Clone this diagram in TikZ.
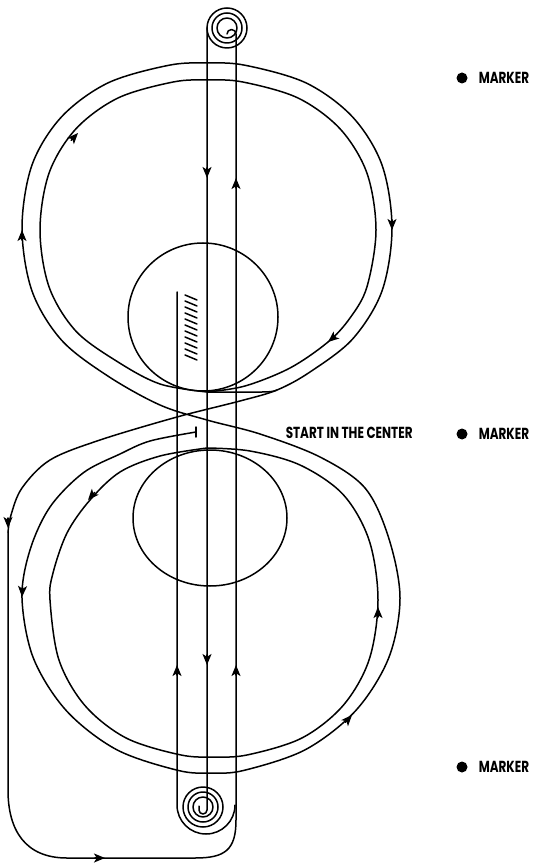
\documentclass[tikz,border=0pt]{standalone}
\usepackage{fontspec}
\newfontfamily\lab{Poppins}[FakeStretch=0.75]
\usetikzlibrary{arrows.meta}
\begin{document}
\begin{tikzpicture}[x=0.5pt,y=-0.5pt, line width=0.75pt, line join=round, line cap=round,
  tipped/.style={-{Stealth[length=5.5pt,width=4.5pt,inset=1.4pt]}},
  lbl/.style={font=\lab\bfseries\fontsize{8}{9}\selectfont, inner sep=0pt, anchor=west}]
\useasboundingbox (0,0) rectangle (534,865);
\newcommand{\arrowat}[4]{\draw[tipped] (#1,#2) -- (#3,#4);}
% ---------- vertical center lines ----------
\draw (177,292) -- (177,805) arc (180:360:14.5pt);
\draw (207,28) -- (207,810) arc (0:-180:2pt) -- ++(0,-4);
\draw (227,34) arc (180:0:2.25pt) -- (236,820) .. controls (236,850) and (225,858) .. (195,858)
      -- (67,858) .. controls (25,858) and (8,830) .. (8,790) -- (8,532);
% spirals
\foreach \r in {10pt,7.5pt,5pt} { \draw (227,28) circle[radius=\r]; \draw (203,807) circle[radius=\r]; }
% ---------- small circles ----------
\draw (203,317) ellipse [x radius=37.5pt, y radius=37pt];
\draw (210,518) ellipse [x radius=38.5pt, y radius=34pt];
% ---------- main route: start, bottom outer, cross, top outer, cross, left run ----------
\draw plot[smooth, tension=0.55] coordinates {(196,432) (150,441) (120,454) (83,473) (50,507) (30,550) (22,598)
  (33.3,657.9) (66.2,710.5) (116.5,749.6) (178.1,770.4) (211,773) (243.9,770.4) (305.5,749.6) (355.8,710.5)
  (388.7,657.9) (400,598) (388.7,538) (365,488) (320,457) (260,434) (207,420) (160,405) (107.8,376)
  (61.4,340) (32,291) (22,228) (32,165) (61.4,117) (107.8,83) (168.7,65.3) (207,63) (245.3,65.3)
  (306.2,83) (352.6,117) (382,165) (392,228) (382,291) (352.6,339) (310,372) (277,390) (240,401)
  (177,417) (100,440) (50,460) (22,488) (11,515) (8,532)};
% ---------- top inner loop ----------
\draw plot[smooth, tension=0.55] coordinates {(207,392) (160,384) (118,362) (75.8,331) (49.1,287) (40,230)
  (49.1,173) (75.8,129) (118,98) (173.2,82) (208,80) (242.8,82) (298,98) (340.2,129) (366.9,173) (376,230)
  (366.9,287) (350,318) (328,342) (290,368) (245,386) (207,392)};
\draw (207,392) -- (262,392) .. controls (272,392) and (275,391) .. (277,390);
% ---------- bottom inner loop ----------
\draw plot[smooth, tension=0.55] coordinates {(207,448) (160,456) (120,472) (90,500) (67,533) (53,573) (50,600)
  (58.9,659.8) (84.9,705.5) (126.1,738) (180.1,754.8) (214,757) (247.9,754.8) (301.9,738) (343.1,705.5)
  (369.1,659.8) (378,600) (369.1,540.2) (343.1,494.5) (300,465) (250,451) (207,448)};
% start bar
\draw (196,427) -- (196,437);
% hatching
\foreach \k in {0,...,10} { \draw (185,{295+6*\k}) -- (197,{300+6*\k}); }
% ---------- arrows ----------
\arrowat{207}{168}{207}{178}
\arrowat{207}{655}{207}{665}
\arrowat{236}{188}{236}{178}
\arrowat{236}{675}{236}{665}
\arrowat{177}{675}{177}{665}
\arrowat{22}{240}{22}{230}
\arrowat{392}{220}{392}{230}
\arrowat{71.2}{140.4}{78}{133}
\arrowat{335.7}{335.6}{328}{342}
\arrowat{8}{518}{8}{528}
\arrowat{95}{858}{105}{858}
\arrowat{94.6}{492.5}{88}{500}
\arrowat{22.5}{587}{22}{597}
\arrowat{378}{617}{378}{607}
\arrowat{345.3}{722.4}{352}{715}
% ---------- labels ----------
\node[lbl] at (285,433) {START IN THE CENTER};
\foreach \yy in {78,434,767} {
  \fill (462,\yy) circle[radius=2.75pt];
  \node[lbl] at (478,\yy) {MARKER};
}
\end{tikzpicture}
\end{document}
